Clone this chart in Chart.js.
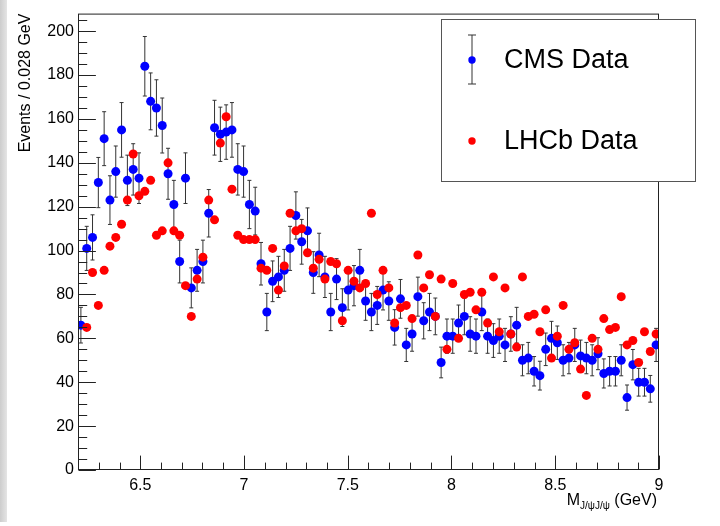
<!DOCTYPE html>
<html>
<head>
<meta charset="utf-8">
<script src="https://cdn.jsdelivr.net/npm/chart.js@4/dist/chart.umd.min.js"></script>
<style>
  html, body { margin: 0; padding: 0; background: #fff; }
  #wrap { width: 720px; height: 526px; position: relative; }
</style>
</head>
<body>
<div id="wrap"><canvas id="chart" width="720" height="526"></canvas></div>
<script>
// histogram binning (28 MeV bins from 6.2 GeV)
const binLow = 6.2;
const binWidth = 0.028;

// CMS counts, bins 0..99
const cmsCounts = [
  66, 101, 106, 131, 151, 123, 136, 155, 132, 137,
  133, 184, 168, 165, 157, 135, 121, 95, 133, 83,
  91, 95, 117, 156, 153, 154, 155, 137, 136, 121,
  118, 94, 72, 86, 88, 91, 101, 116, 104, 109,
  90, 98, 88, 72, 87, 74, 82, 84, 91, 77,
  72, 75, 82, 77, 65, 78, 57, 62, 79, 68,
  72, 70, 49, 61, 61, 67, 70, 62, 61, 72,
  61, 59, 61, 57, 62, 66, 50, 51, 45, 43,
  55, 60, 58, 50, 51, 57, 52, 51, 50, 53,
  44, 45, 45, 50, 33, 48, 40, 40, 37, 57
];

// LHCb counts, bins 1..99 (no entry in the first bin)
const lhcbFirstBin = 1;
const lhcbCounts = [
  65, 90, 75, 91, 102, 106, 112, 123, 144,
  125, 127, 132, 107, 109, 140, 109, 107, 84, 70,
  87, 97, 123, 114, 149, 161, 128, 107, 105, 105,
  105, 92, 91, 101, 82, 93, 117, 109, 110, 99,
  92, 96, 87, 95, 94, 68, 91, 86, 83, 85,
  117, 80, 91, 83, 67, 74, 75, 69, 98, 83,
  89, 70, 87, 55, 85, 60, 80, 81, 73, 81,
  67, 88, 63, 83, 62, 56, 88, 70, 71, 63,
  73, 51, 61, 75, 55, 58, 46, 34, 60, 55,
  69, 64, 65, 79, 57, 59, 49, 63, 54, 62
];

const xTicks = [6.5, 7, 7.5, 8, 8.5, 9];
const yTicks = [0, 20, 40, 60, 80, 100, 120, 140, 160, 180, 200];
const xRange = [6.2, 9.0];
const yRange = [0, 208];

const legendLabels = ['CMS Data', 'LHCb Data'];
const xTitleMain = 'M';
const xTitleSub = 'J/\u03c8J/\u03c8';
const xTitleUnit = ' (GeV)';
const yTitle = 'Events / 0.028 GeV';

const FONT = '"Liberation Sans", Arial, Helvetica, sans-serif';
const center = i => binLow + binWidth * (i + 0.5);

const cmsPoints = cmsCounts.map((v, i) => ({ x: center(i), y: v }));
const lhcbPoints = lhcbCounts.map((v, i) => ({ x: center(i + lhcbFirstBin), y: v }));
// Poisson errors for the CMS histogram
const cmsErr = cmsCounts.map(v => Math.sqrt(v));

const rootStyle = {
  id: 'rootStyle',
  beforeDraw(chart) {
    const c = chart.ctx;
    c.save();
    c.fillStyle = '#fff';
    c.fillRect(0, 0, chart.width, chart.height);
    const g = c.createLinearGradient(0, 0, 8, 0);
    g.addColorStop(0, '#cdcdcd');
    g.addColorStop(1, '#e8e8e8');
    c.fillStyle = g;
    c.fillRect(0, 0, 7, 522);
    c.restore();
  },
  beforeDatasetsDraw(chart) {
    const c = chart.ctx, xs = chart.scales.x, ys = chart.scales.y;
    c.save();
    c.lineWidth = 1;
    c.strokeStyle = '#333';
    cmsPoints.forEach((p, i) => {
      const px = xs.getPixelForValue(p.x);
      const top = ys.getPixelForValue(p.y + cmsErr[i]);
      const bot = ys.getPixelForValue(p.y - cmsErr[i]);
      c.beginPath();
      c.moveTo(px, top); c.lineTo(px, bot);
      c.moveTo(px - 2, top); c.lineTo(px + 2, top);
      c.moveTo(px - 2, bot); c.lineTo(px + 2, bot);
      c.stroke();
    });
    c.restore();
  },
  afterDraw(chart) {
    const c = chart.ctx, xs = chart.scales.x, ys = chart.scales.y;
    const a = chart.chartArea;
    const L = a.left + 0.5, R = a.right - 0.5, T = a.top + 0.5, B = a.bottom - 0.5;
    c.save();
    c.strokeStyle = '#222';
    c.lineWidth = 1;
    c.strokeRect(L, T, R - L, B - T);

    // inward ticks, ROOT style
    c.beginPath();
    for (let v = 0; v <= yRange[1]; v += 5) {
      const py = Math.round(ys.getPixelForValue(v)) + 0.5;
      const len = yTicks.includes(v) ? 17.4 : 8.7;
      c.moveTo(L, py); c.lineTo(L + len, py);
    }
    for (let k = 63; k <= 90; k++) {
      const v = k / 10;
      const px = Math.round(xs.getPixelForValue(v)) + 0.5;
      const len = xTicks.includes(v) ? 13.9 : 6.9;
      c.moveTo(px, B); c.lineTo(px, B - len);
    }
    c.stroke();

    // x title with subscript, right aligned
    c.fillStyle = '#000';
    c.textBaseline = 'alphabetic';
    const big = '16px ' + FONT, small = '10px ' + FONT;
    c.font = big;
    const wM = c.measureText(xTitleMain).width, wU = c.measureText(xTitleUnit).width;
    c.font = small;
    const wS = c.measureText(xTitleSub).width;
    const x0 = 657 - wM - wS - wU;
    c.font = big; c.fillText(xTitleMain, x0, 505);
    c.font = small; c.fillText(xTitleSub, x0 + wM, 509);
    c.font = big; c.fillText(xTitleUnit, x0 + wM + wS, 505);

    // legend box
    c.fillStyle = '#fff';
    c.fillRect(441, 19, 254, 162);
    c.strokeStyle = '#555';
    c.strokeRect(441.5, 19.5, 254, 162);
    c.strokeStyle = '#333';
    c.beginPath();
    c.moveTo(472, 35); c.lineTo(472, 84);
    c.moveTo(468, 35); c.lineTo(476, 35);
    c.moveTo(468, 84); c.lineTo(476, 84);
    c.stroke();
    c.fillStyle = '#0000ff';
    c.beginPath(); c.arc(472, 60, 3.7, 0, Math.PI * 2); c.fill();
    c.fillStyle = '#ff0000';
    c.beginPath(); c.arc(472, 141, 3.7, 0, Math.PI * 2); c.fill();
    c.fillStyle = '#000';
    c.font = '27px ' + FONT;
    c.textBaseline = 'middle';
    c.fillText(legendLabels[0], 504, 61);
    c.fillText(legendLabels[1], 504, 142);
    c.restore();
  }
};

new Chart(document.getElementById('chart'), {
  type: 'scatter',
  data: {
    datasets: [
      { label: legendLabels[0], data: cmsPoints, order: 2,
        backgroundColor: '#0000ff', borderWidth: 0, pointRadius: 4.5, pointHoverRadius: 4.5 },
      { label: legendLabels[1], data: lhcbPoints, order: 1,
        backgroundColor: '#ff0000', borderWidth: 0, pointRadius: 4.5, pointHoverRadius: 4.5 }
    ]
  },
  options: {
    responsive: false,
    animation: false,
    events: [],
    layout: { padding: { left: 0, right: 61, top: 7, bottom: 0 } },
    plugins: { legend: { display: false }, tooltip: { enabled: false } },
    scales: {
      x: {
        type: 'linear', min: xRange[0], max: xRange[1],
        grid: { display: false, drawTicks: false },
        border: { display: false },
        afterBuildTicks: s => { s.ticks = xTicks.map(v => ({ value: v })); },
        afterFit: s => { s.height = 56; },
        ticks: { padding: 6, color: '#000', font: { family: FONT, size: 16 }, maxRotation: 0,
          callback: v => String(v) }
      },
      y: {
        type: 'linear', min: yRange[0], max: yRange[1],
        grid: { display: false, drawTicks: false },
        border: { display: false },
        afterBuildTicks: s => { s.ticks = yTicks.map(v => ({ value: v })); },
        afterFit: s => { s.width = 78; },
        ticks: { padding: 4, color: '#000', font: { family: FONT, size: 16 },
          callback: v => String(v) },
        title: { display: true, text: yTitle, align: 'end', color: '#000',
          font: { family: FONT, size: 16 }, padding: { top: 16, bottom: 0 } }
      }
    }
  },
  plugins: [rootStyle]
});
</script>
</body>
</html>
